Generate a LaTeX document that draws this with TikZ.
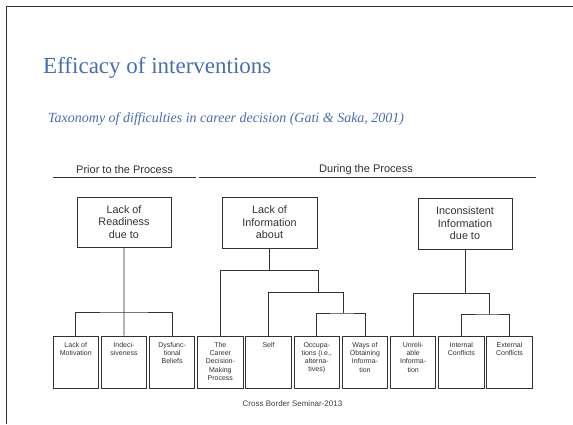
\documentclass[tikz,border=0pt]{standalone}
\usepackage{fontspec}
\setmainfont{Liberation Serif}
\setsansfont{Liberation Sans}
\definecolor{titleblue}{RGB}{72,110,180}
\definecolor{ink}{RGB}{50,50,50}
\begin{document}
\begin{tikzpicture}[x=1pt,y=-1pt,
  topbox/.style={draw=ink, line width=1pt, minimum width=94pt, minimum height=50pt, inner sep=0pt,
    align=center, text=ink, font=\sffamily\fontsize{10.8}{12.5}\selectfont},
  leaf/.style={draw=ink, line width=1pt, minimum width=45.5pt, minimum height=52pt, inner sep=0pt,
    text=ink, font=\sffamily\fontsize{7}{8.2}\selectfont},
  conn/.style={draw=ink, line width=0.9pt},
  head/.style={text=ink, font=\sffamily\fontsize{11}{12}\selectfont, inner sep=0pt}]
\useasboundingbox (0,0) rectangle (573,424);
\fill[white] (0,0) rectangle (573,424);
% slide frame
\draw[line width=1.8pt, black!80] (6.5,424) -- (6.5,6.5) -- (573,6.5);
% title
\node[anchor=base west, inner sep=0pt, text=titleblue, font=\fontsize{23}{26}\selectfont] (title) at (43,73) {Efficacy of interventions};
\node[anchor=base west, inner sep=0pt, text=titleblue, font=\itshape\fontsize{14}{16}\selectfont] (sub) at (48,122.5) {Taxonomy of difficulties in career decision (Gati \& Saka, 2001)};
% headers
\node[head] (prior) at (124.5,169.5) {Prior to the Process};
\node[head] (during) at (366,169.5) {During the Process};
\draw[ink, line width=1pt] (53,177) -- (196,177);
\draw[ink, line width=1pt] (199,177.5) -- (536,177.5);
% top boxes
\node[topbox] (rd) at (124,222) {Lack of\\Readiness\\due to};
\node[topbox, minimum width=95pt, minimum height=51pt] (li) at (269.5,222.5) {Lack of\\Information\\about};
\node[topbox, minimum height=51pt] (ic) at (465,223.5) {Inconsistent\\Information\\due to};
% leaf boxes
\newcommand{\leaftext}[1]{\parbox[c][39pt][t]{44pt}{\centering #1}}
\node[leaf] (b0) at (75.75,362) {\leaftext{Lack of\\Motivation}};
\node[leaf] (b1) at (123.95,362) {\leaftext{Indeci-\\siveness}};
\node[leaf] (b2) at (172.15,362) {\leaftext{Dysfunc-\\tional\\Beliefs}};
\node[leaf] (b3) at (220.35,362) {\leaftext{The\\Career\\Decision-\\Making\\Process}};
\node[leaf] (b4) at (268.55,362) {\leaftext{Self}};
\node[leaf] (b5) at (316.75,362) {\leaftext{Occupa-\\tions (i.e.,\\alterna-\\tives)}};
\node[leaf] (b6) at (364.95,362) {\leaftext{Ways of\\Obtaining\\Informa-\\tion}};
\node[leaf] (b7) at (413.15,362) {\leaftext{Unreli-\\able\\Informa-\\tion}};
\node[leaf] (b8) at (461.35,362) {\leaftext{Internal\\Conflicts}};
\node[leaf] (b9) at (509.55,362) {\leaftext{External\\Conflicts}};
% junction coordinates
\coordinate (h0) at (124,312);
\coordinate (h1) at (318,270);
\coordinate (h2) at (343,292);
\coordinate (h3) at (343,313);
\coordinate (h4) at (489,293);
\coordinate (h5) at (489,314);
% connectors: readiness
\draw[conn] (rd.south) -- (b1.north);
\draw[conn] (b0.north) |- (h0) -| (b2.north);
% connectors: information
\draw[conn] (li.south) -- (li.south |- h1);
\draw[conn] (b3.north) |- (h1) -- (h1 |- h2);
\draw[conn] (b4.north) |- (h2) -- (h3);
\draw[conn] (b5.north) |- (h3) -| (b6.north);
% connectors: inconsistent
\draw[conn] (ic.south) -- (ic.south |- h4);
\draw[conn] (b7.north) |- (h4) -- (h5);
\draw[conn] (b8.north) |- (h5) -| (b9.north);
% footer
\node[inner sep=0pt, text=black!75, font=\sffamily\fontsize{8}{9}\selectfont] (foot) at (292.5,404) {Cross Border Seminar-2013};
\end{tikzpicture}
\end{document}
